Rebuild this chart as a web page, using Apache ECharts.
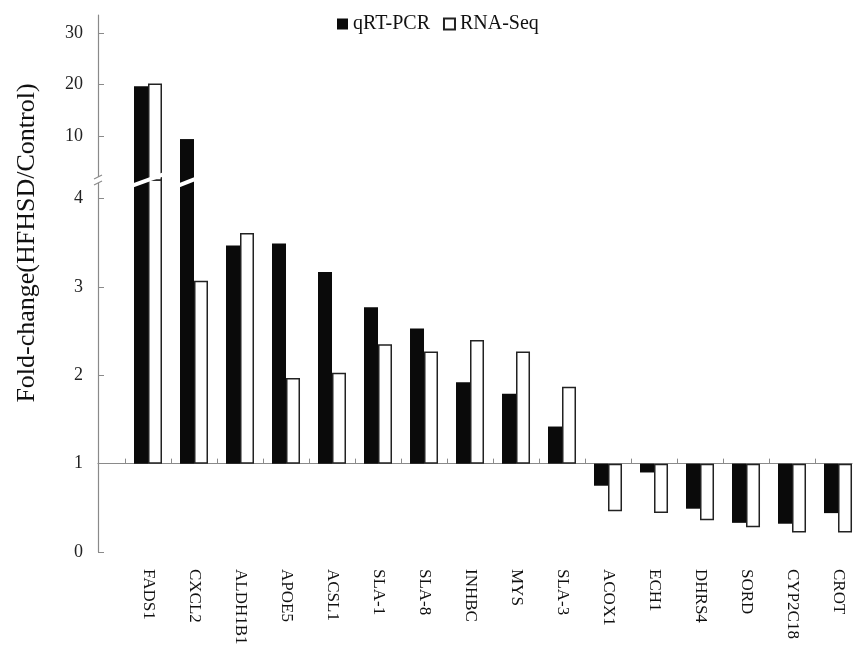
<!DOCTYPE html>
<html>
<head>
<meta charset="utf-8">
<script src="https://cdn.jsdelivr.net/npm/echarts@6/dist/echarts.min.js"></script>
<style>html,body{margin:0;padding:0;background:#fff;}#c{width:855px;height:646px;}</style>
</head>
<body>
<div id="c"></div>
<script>
// ---- data ----
const categories = ['FADS1','CXCL2','ALDH1B1','APOE5','ACSL1','SLA-1','SLA-8','INHBC','MYS','SLA-3','ACOX1','ECH1','DHRS4','SORD','CYP2C18','CROT'];
const qrtPcr = [19.7, 9.4, 3.47, 3.49, 3.17, 2.77, 2.53, 1.92, 1.79, 1.42, 0.75, 0.90, 0.49, 0.33, 0.32, 0.44];
const rnaSeq = [20.2, 3.07, 3.61, 1.97, 2.03, 2.35, 2.27, 2.40, 2.27, 1.87, 0.46, 0.44, 0.36, 0.28, 0.22, 0.22];
const upperTicks = [10, 20, 30];
const lowerTicks = [0, 1, 2, 3, 4];
const baseline = 1;      // fold-change baseline
const breakValue = 4.21; // top of lower segment (axis break)
const upperMin = 1.43, upperMax = 33.56;

// ---- layout / style ----
const serif = 'Liberation Serif';
const axisGrey = '#8a8a8a';
const barW = 14;
const xMin = -1.087, xMax = 15.304;
const idx = categories.map((_, i) => i);
const dMax = +(breakValue - baseline).toFixed(3);
const lowerData = arr => arr.map((v, i) => [i, +(v - baseline).toFixed(3)]);
const upperData = arr => arr.map((v, i) => [i, v > breakValue ? v : '-']);

const blackStyle = { color: '#0a0a0a' };
const whiteStyle = { color: '#ffffff', borderColor: '#222', borderWidth: 1.5 };

// white slash across bars that run through the axis break
function renderBarBreak(params, api) {
  const i = api.value(0);
  const hasQ = qrtPcr[i] > breakValue, hasR = rnaSeq[i] > breakValue;
  if (!hasQ && !hasR) return null;
  const c = api.coord([i, dMax]);
  const x0 = c[0] - barW - 3;
  const x1 = hasR ? c[0] + barW + 2 : c[0] + 4;
  const k = 0.6;
  return {
    type: 'line',
    shape: { x1: x0, y1: c[1] + (c[0] - x0) * k * 0.5 + 1, x2: x1, y2: c[1] - (x1 - c[0]) * k * 0.5 - 1 },
    style: { stroke: '#fff', lineWidth: 4 }
  };
}
// break mark on the y axis
function renderAxisBreak(params, api) {
  const c = api.coord([api.value(0), dMax]);
  return {
    type: 'group',
    children: [
      { type: 'rect', shape: { x: c[0] - 6, y: c[1] - 3, width: 12, height: 6 }, style: { fill: '#fff' } },
      { type: 'line', shape: { x1: c[0] - 4, y1: c[1] - 1, x2: c[0] + 4, y2: c[1] - 5 }, style: { stroke: axisGrey, lineWidth: 1.2 } },
      { type: 'line', shape: { x1: c[0] - 4, y1: c[1] + 5, x2: c[0] + 4, y2: c[1] + 1 }, style: { stroke: axisGrey, lineWidth: 1.2 } }
    ]
  };
}

const chart = echarts.init(document.getElementById('c'));
chart.setOption({
  animation: false,
  backgroundColor: '#fff',
  legend: {
    top: 9, left: 332, itemWidth: 11, itemHeight: 11, itemGap: 13,
    icon: 'rect',
    textStyle: { fontFamily: serif, fontSize: 20, color: '#111' },
    data: ['qRT-PCR', 'RNA-Seq']
  },
  grid: [
    { left: 98, right: 3, top: 15, height: 165, outerBoundsMode: 'none', containLabel: false },
    { left: 98, right: 3, top: 180, height: 372, outerBoundsMode: 'none', containLabel: false }
  ],
  xAxis: [
    { gridIndex: 0, type: 'value', min: xMin, max: xMax, show: false },
    { gridIndex: 1, type: 'value', min: xMin, max: xMax, position: 'bottom',
      axisLine: { show: true, onZero: true, lineStyle: { color: axisGrey, width: 1.2 } },
      axisTick: { show: true, inside: true, length: 5, customValues: idx.map(i => i - 0.5), lineStyle: { color: axisGrey } },
      axisLabel: { show: false }, splitLine: { show: false } },
    { gridIndex: 1, type: 'value', min: xMin, max: xMax, position: 'bottom',
      axisLine: { show: false, onZero: false }, axisTick: { show: false }, splitLine: { show: false },
      axisLabel: { show: true, customValues: idx, rotate: -90, margin: 17,
        fontFamily: serif, fontSize: 17, color: '#111',
        formatter: v => categories[Math.round(v)] } }
  ],
  yAxis: [
    { gridIndex: 0, type: 'value', min: upperMin, max: upperMax,
      axisLine: { show: true, onZero: false, lineStyle: { color: axisGrey, width: 1.2 } },
      axisTick: { show: true, inside: true, length: 6, customValues: upperTicks, lineStyle: { color: axisGrey } },
      axisLabel: { customValues: upperTicks, margin: 15, fontFamily: serif, fontSize: 18, color: '#222' },
      splitLine: { show: false } },
    { gridIndex: 1, type: 'value', min: -1, max: dMax,
      axisLine: { show: true, onZero: false, lineStyle: { color: axisGrey, width: 1.2 } },
      axisTick: { show: true, inside: true, length: 6, customValues: lowerTicks.map(t => t - baseline), lineStyle: { color: axisGrey } },
      axisLabel: { customValues: lowerTicks.map(t => t - baseline), margin: 15, fontFamily: serif, fontSize: 18, color: '#222',
        formatter: v => String(Math.round(v + baseline)) },
      splitLine: { show: false } }
  ],
  graphic: [
    { type: 'text', x: 27, y: 243, rotation: Math.PI / 2,
      style: { text: 'Fold-change(HFHSD/Control)', fontFamily: serif, fontSize: 26, fill: '#111', align: 'center', verticalAlign: 'middle' } }
  ],
  series: [
    { name: 'qRT-PCR', type: 'bar', xAxisIndex: 1, yAxisIndex: 1, barWidth: barW, barGap: '0%', clip: true,
      itemStyle: blackStyle, data: lowerData(qrtPcr) },
    { name: 'RNA-Seq', type: 'bar', xAxisIndex: 1, yAxisIndex: 1, barWidth: barW, barGap: '0%', clip: true,
      itemStyle: whiteStyle, data: lowerData(rnaSeq) },
    { name: 'qRT-PCR', type: 'bar', xAxisIndex: 0, yAxisIndex: 0, barWidth: barW, barGap: '0%', clip: true,
      itemStyle: blackStyle, data: upperData(qrtPcr) },
    { name: 'RNA-Seq', type: 'bar', xAxisIndex: 0, yAxisIndex: 0, barWidth: barW, barGap: '0%', clip: true,
      itemStyle: whiteStyle, data: upperData(rnaSeq) },
    { type: 'custom', xAxisIndex: 1, yAxisIndex: 1, z: 10, clip: false, silent: true,
      renderItem: renderBarBreak, data: idx.map(i => [i]) },
    { type: 'custom', xAxisIndex: 1, yAxisIndex: 1, z: 10, clip: false, silent: true,
      renderItem: renderAxisBreak, data: [[xMin]] }
  ]
});
</script>
</body>
</html>
